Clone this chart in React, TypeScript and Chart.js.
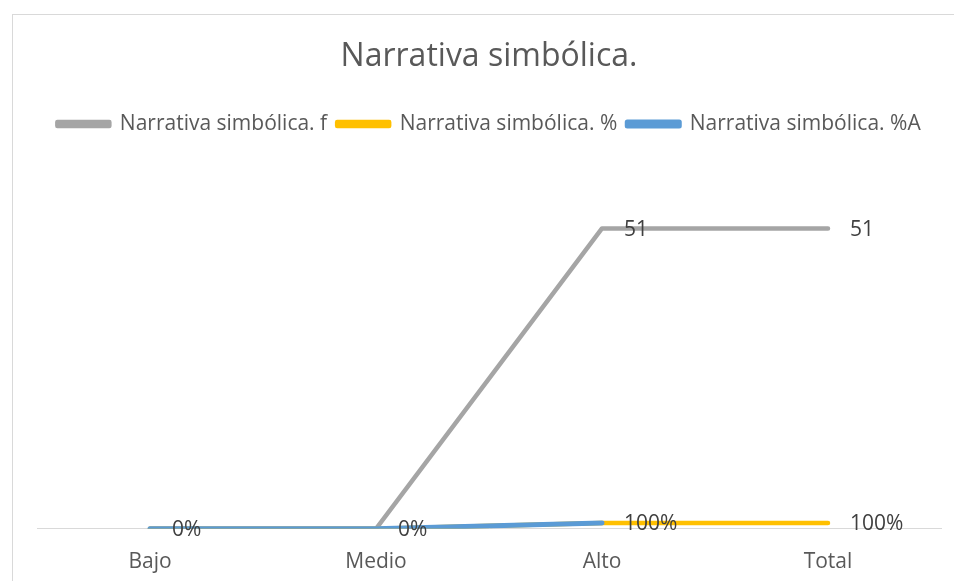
import React, { useEffect, useRef } from "react";
import { Chart, registerables } from "chart.js";

Chart.register(...registerables);

const categories = ["Bajo", "Medio", "Alto", "Total"];
const seriesNames = ["Narrativa simbólica. f", "Narrativa simbólica. %", "Narrativa simbólica. %A"];
const seriesF = [0, 0, 51, 51];
const seriesPct = [0, 0, 1, 1];
const seriesPctA = [0, 0, 1, null];
const labelsF = ["", "", "51", "51"];
const labelsPct = ["", "", "100%", "100%"];
const labelsPctA = ["0%", "0%", "", ""];
const colors = ["#A5A5A5", "#FFC000", "#5B9BD5"];

const FONT = "'Open Sans', Lato, sans-serif";

export default function App() {
  const ref = useRef<HTMLCanvasElement>(null);
  useEffect(() => {
    document.body.style.margin = "0";
    const canvas = ref.current!;
    const frame = {
      id: "frame",
      beforeDraw(chart: any) {
        const ctx = chart.ctx;
        ctx.save();
        ctx.fillStyle = "#fff";
        ctx.fillRect(0, 0, chart.width, chart.height);
        ctx.strokeStyle = "#d9d9d9";
        ctx.lineWidth = 1;
        ctx.strokeRect(12.5, 14.5, chart.width + 10, chart.height + 10);
        ctx.restore();
      },
    };
    const legendMargin = {
      id: "legendMargin",
      beforeInit(chart: any) {
        const fit = chart.legend.fit;
        chart.legend.fit = function () {
          fit.bind(chart.legend)();
          this.height += 31;
        };
      },
    };
    const allLabels = [labelsF, labelsPct, labelsPctA];
    const dataLabels = {
      id: "dataLabels",
      afterDatasetsDraw(chart: any) {
        const ctx = chart.ctx;
        ctx.save();
        ctx.font = `21px ${FONT}`;
        ctx.fillStyle = "#404040";
        ctx.textAlign = "left";
        ctx.textBaseline = "middle";
        chart.data.datasets.forEach((_: any, di: number) => {
          const meta = chart.getDatasetMeta(di);
          meta.data.forEach((pt: any, i: number) => {
            const t = allLabels[di][i];
            if (!t) return;
            ctx.fillText(t, pt.x + 22, pt.y + 1.5);
          });
        });
        ctx.restore();
      },
    };
    const widths = [4.5, 4.5, 5];
    const chart = new Chart(canvas, {
      type: "line",
      data: {
        labels: categories,
        datasets: [
          { label: seriesNames[0], data: seriesF, borderColor: colors[0], backgroundColor: colors[0], order: 3 },
          { label: seriesNames[1], data: seriesPct, borderColor: colors[1], backgroundColor: colors[1], order: 2 },
          { label: seriesNames[2], data: seriesPctA, borderColor: colors[2], backgroundColor: colors[2], order: 1 },
        ].map((d, i) => ({
          ...d,
          borderWidth: widths[i],
          pointRadius: 0,
          borderCapStyle: "round" as const,
          borderJoinStyle: "round" as const,
          tension: 0,
          spanGaps: false,
        })),
      },
      options: {
        animation: false,
        responsive: false,
        layout: { padding: { top: 14, left: 37, right: 13, bottom: 0 } },
        plugins: {
          title: {
            display: true,
            text: "Narrativa simbólica.",
            color: "#595959",
            font: { family: FONT, size: 32, weight: "normal" },
            padding: { top: 24, bottom: 27 },
          },
          legend: {
            display: true,
            labels: {
              color: "#595959",
              font: { family: FONT, size: 21 },
              boxWidth: 52,
              boxHeight: 4,
              padding: 10,
              sort: (a: any, b: any) => a.datasetIndex - b.datasetIndex,
            },
          },
          tooltip: { enabled: false },
        },
        scales: {
          x: {
            offset: true,
            grid: { display: false, drawTicks: true, tickLength: 15 },
            border: { display: true, color: "#d9d9d9", width: 1 },
            ticks: { color: "#595959", font: { family: FONT, size: 21 }, padding: 6 },
          },
          y: { display: false, min: 0, max: 60 },
        },
      },
      plugins: [frame, legendMargin, dataLabels],
    });
    return () => chart.destroy();
  }, []);
  return (
    <div style={{ width: 954, height: 581 }}>
      <canvas ref={ref} width={954} height={581} style={{ display: "block" }} />
    </div>
  );
}
